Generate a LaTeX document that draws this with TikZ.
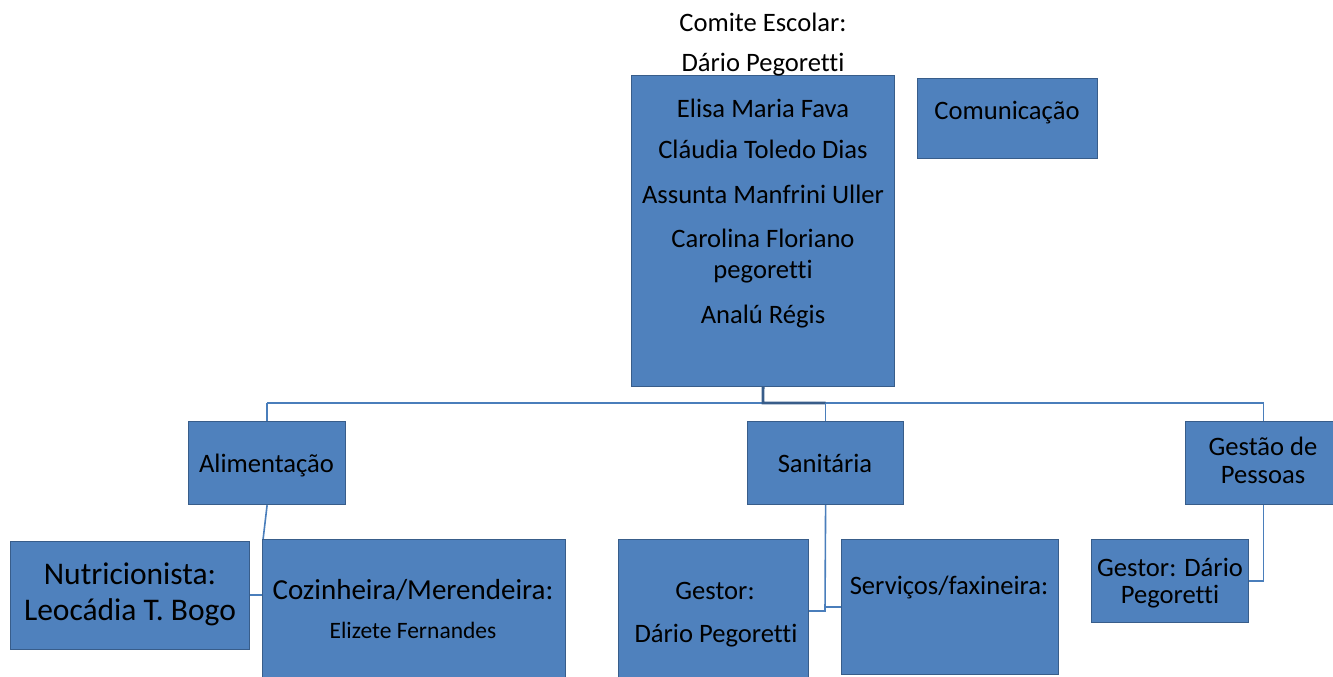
\documentclass[tikz,border=0pt]{standalone}
\usepackage{fontspec}
\setmainfont{Carlito}[Ligatures={NoCommon}]
\definecolor{boxfill}{HTML}{4F81BD}
\definecolor{boxline}{HTML}{385D8A}
\definecolor{linkcol}{HTML}{4A7EBB}
\begin{document}
\begin{tikzpicture}[x=1pt,y=-1pt,
  box/.style={draw=boxline, fill=boxfill, line width=1.2pt, anchor=north west, inner sep=0pt},
  conn/.style={draw=linkcol, line width=1.6pt},
  thickconn/.style={draw=boxline, line width=2.8pt},
  txt/.style={anchor=base, inner sep=0pt, text=black, font=\fontsize{26.6}{32}\selectfont},
  txtbig/.style={txt, font=\fontsize{31.5}{38}\selectfont},
  txtmid/.style={txt, font=\fontsize{29}{35}\selectfont},
  txtsmall/.style={txt, font=\fontsize{23.5}{28}\selectfont}]
\useasboundingbox (0,0) rectangle (1333,677);
% coordinates for connector joints
\coordinate (bus) at (763,403);
\coordinate (aj1) at (263,540);
\coordinate (aj2) at (263,608);
\coordinate (aj3) at (263,595);
\coordinate (sj1) at (825,611);
\coordinate (sj2) at (825,607);
% boxes
\node[box, minimum width=263pt, minimum height=311pt] (main) at (631,75) {};
\node[box, minimum width=180pt, minimum height=80pt] (com) at (917,78) {};
\node[box, minimum width=157pt, minimum height=83pt] (ali) at (188,421) {};
\node[box, minimum width=156pt, minimum height=83pt] (san) at (747,421) {};
\node[box, minimum width=156pt, minimum height=83pt] (ges) at (1185,421) {};
% connectors
\draw[conn] (bus -| ali.north) -- (bus -| ges.north);
\draw[conn] (bus -| ali.north) -- (ali.north);
\draw[conn] (bus -| ges.north) -- (ges.north);
\draw[thickconn] (main.south) -- (bus) -- (bus -| san.north);
\draw[conn] (bus -| san.north) -- (san.north);
\draw[conn] (ali.south) -- (aj1) -- (aj2);
\draw[conn] (aj3) -- (263-14,595);
\draw[conn] (san.south) -- (sj1) -- (808,611);
\draw[conn] (sj2) -- (841,607);
\draw[conn] (ges.south) |- (1248,581);
% lower boxes
\node[box, minimum width=239pt, minimum height=108pt] (nut) at (10,541) {};
\node[box, minimum width=303pt, minimum height=150pt] (cook) at (262,539) {};
\node[box, minimum width=190pt, minimum height=150pt] (gs) at (618,539) {};
\node[box, minimum width=217pt, minimum height=135pt] (serv) at (841,539) {};
\node[box, minimum width=157pt, minimum height=83pt] (gg) at (1091,539) {};
% texts
\node[txt] (t1) at (763,32) {Comite Escolar:};
\node[txt] (t2) at (763,72) {Dário Pegoretti};
\node[txt] (t3) at (763,117) {Elisa Maria Fava};
\node[txt] (t4) at (763,158) {Cláudia Toledo Dias};
\node[txt] (t5) at (763,203) {Assunta Manfrini Uller};
\node[txt] (t6) at (763,247) {Carolina Floriano};
\node[txt] (t7) at (763,278) {pegoretti};
\node[txt] (t8) at (763,323) {Analú Régis};
\node[txt] (t9) at (1007,119) {Comunicação};
\node[txt] (t10) at (266.5,472) {Alimentação};
\node[txt] (t11) at (825,472) {Sanitária};
\node[txt] (t12) at (1263,455) {Gestão de};
\node[txt] (t13) at (1263,483) {Pessoas};
\node[txtbig] (t14) at (130,584) {Nutricionista:};
\node[txtbig] (t15) at (130,620) {Leocádia T. Bogo};
\node[txtmid] (t16) at (413,599) {Cozinheira/Merendeira:};
\node[txtsmall] (t17) at (413,638) {Elizete Fernandes};
\node[txt] (t18) at (715,599) {Gestor:};
\node[txt] (t19) at (716,642) {Dário Pegoretti};
\node[txt] (t20) at (949,594) {Serviços/faxineira:};
\node[txt] (t21) at (1170,576) {Gestor: Dário};
\node[txt] (t22) at (1170,603) {Pegoretti};
\end{tikzpicture}
\end{document}
